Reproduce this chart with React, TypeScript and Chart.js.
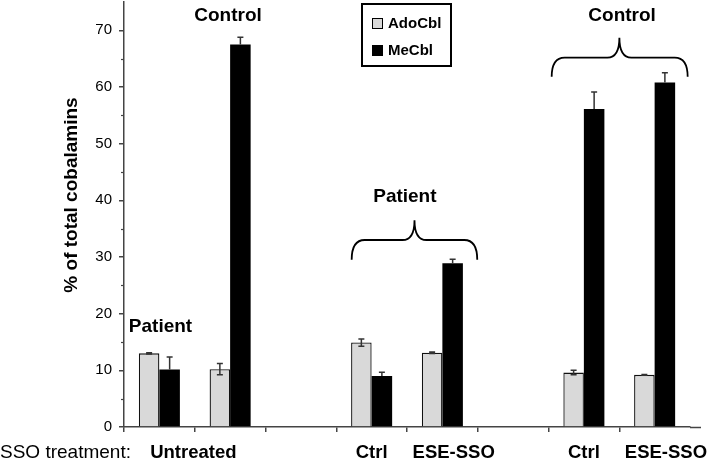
import React, { useEffect, useRef } from "react";
import { Chart, registerables } from "chart.js";

Chart.register(...registerables);

const categories = ["P-Untreated", "C-Untreated", "", "P-Ctrl", "P-ESE-SSO", "", "C-Ctrl", "C-ESE-SSO"];
const adoValues = [13.0, 10.2, null, 14.9, 13.1, null, 9.6, 9.2];
const adoErrors = [0.1, 1.0, 0, 0.65, 0.12, 0, 0.4, 0.08];
const meValues = [10.15, 67.5, null, 9.0, 28.9, null, 56.1, 60.8];
const meErrors = [2.2, 1.3, 0, 0.65, 0.7, 0, 3.0, 1.7];
const seriesNames = ["AdoCbl", "MeCbl"];
const yTickLabels = [0, 10, 20, 30, 40, 50, 60, 70];
const yMinorTicks = [5, 15, 25, 35, 45, 55, 65];
const xLabels = [
  { text: "Untreated", at: 0.48 },
  { text: "Ctrl", at: 3.0 },
  { text: "ESE-SSO", at: 4.16 },
  { text: "Ctrl", at: 6.0 },
  { text: "ESE-SSO", at: 7.16 },
];
const rowTitle = "SSO treatment:";
const yTitle = "% of total cobalamins";
const groupLabels = [
  { text: "Control", at: 0.97, y: 72.5 },
  { text: "Patient", at: 0.016, y: 17.7 },
  { text: "Patient", at: 3.47, y: 40.6 },
  { text: "Control", at: 6.54, y: 72.5 },
];
const braces = [
  { from: 2.718, to: 4.493, mid: 3.606, end: 29.5, bar: 33.0, peak: 36.5 },
  { from: 5.545, to: 7.467, mid: 6.502, end: 61.8, bar: 65.2, peak: 68.7 },
];

const FONT = "'Liberation Sans', Arial, Helvetica, sans-serif";
const AXIS = "#444";
const GRAY = "#d9d9d9";

const overlay = {
  id: "overlay",
  afterDatasetsDraw(chart: any) {
    const ctx = chart.ctx;
    const x = chart.scales.x;
    const y = chart.scales.y;
    ctx.save();
    // error bars
    ctx.strokeStyle = "#333";
    ctx.lineWidth = 1.5;
    const drawErr = (di: number, vals: any[], errs: number[], both: boolean) => {
      const meta = chart.getDatasetMeta(di);
      vals.forEach((v, i) => {
        if (v == null) return;
        const el = meta.data[i];
        const cx = el.x;
        const top = y.getPixelForValue(v + errs[i]);
        const bot = both ? y.getPixelForValue(v - errs[i]) : el.y;
        ctx.beginPath();
        ctx.moveTo(cx, top);
        ctx.lineTo(cx, bot);
        ctx.moveTo(cx - 3, top);
        ctx.lineTo(cx + 3, top);
        if (both) {
          ctx.moveTo(cx - 3, bot);
          ctx.lineTo(cx + 3, bot);
        }
        ctx.stroke();
      });
    };
    drawErr(0, adoValues, adoErrors, true);
    drawErr(1, meValues, meErrors, false);

    // minor y ticks
    ctx.strokeStyle = AXIS;
    ctx.lineWidth = 1.2;
    yMinorTicks.forEach((t) => {
      const py = Math.round(y.getPixelForValue(t)) + 0.5;
      ctx.beginPath();
      ctx.moveTo(x.left - 3, py);
      ctx.lineTo(x.left, py);
      ctx.stroke();
    });
    // extend x axis line
    ctx.lineWidth = 1.5;
    ctx.beginPath();
    ctx.moveTo(x.right, y.bottom + 0.5);
    ctx.lineTo(x.right + 11, y.bottom + 0.5);
    ctx.stroke();

    // group labels
    ctx.fillStyle = "#000";
    ctx.font = `bold 19px ${FONT}`;
    ctx.textAlign = "center";
    ctx.textBaseline = "middle";
    groupLabels.forEach((g) => {
      ctx.fillText(g.text, x.getPixelForValue(g.at), y.getPixelForValue(g.y));
    });

    // braces
    ctx.strokeStyle = "#000";
    ctx.lineWidth = 1.8;
    braces.forEach((b) => {
      const x0 = x.getPixelForValue(b.from);
      const x1 = x.getPixelForValue(b.to);
      const xm = x.getPixelForValue(b.mid);
      const ye = y.getPixelForValue(b.end);
      const yh = y.getPixelForValue(b.bar);
      const yp = y.getPixelForValue(b.peak);
      const r = 13;
      ctx.beginPath();
      ctx.moveTo(x0, ye);
      ctx.quadraticCurveTo(x0, yh, x0 + r, yh);
      ctx.lineTo(xm - 12, yh);
      ctx.quadraticCurveTo(xm, yh, xm, yp);
      ctx.quadraticCurveTo(xm, yh, xm + 12, yh);
      ctx.lineTo(x1 - r, yh);
      ctx.quadraticCurveTo(x1, yh, x1, ye);
      ctx.stroke();
    });

    // legend
    ctx.lineWidth = 2;
    ctx.strokeStyle = "#000";
    ctx.strokeRect(362, 4, 89, 62);
    ctx.fillStyle = GRAY;
    ctx.fillRect(372.5, 18.5, 10, 10);
    ctx.lineWidth = 1;
    ctx.strokeRect(372.5, 18.5, 10, 10);
    ctx.fillStyle = "#000";
    ctx.fillRect(372, 45, 11, 11);
    ctx.font = `bold 15px ${FONT}`;
    ctx.textAlign = "left";
    ctx.textBaseline = "middle";
    ctx.fillText(seriesNames[0], 388, 24);
    ctx.fillText(seriesNames[1], 388, 51);

    // x labels
    ctx.textBaseline = "alphabetic";
    ctx.font = `bold 18.5px ${FONT}`;
    ctx.textAlign = "center";
    xLabels.forEach((l) => {
      ctx.fillText(l.text, x.getPixelForValue(l.at), 458);
    });
    ctx.font = `19px ${FONT}`;
    ctx.textAlign = "left";
    ctx.fillText(rowTitle, 0, 458);

    // y title
    ctx.save();
    ctx.translate(72, 195);
    ctx.rotate(-Math.PI / 2);
    ctx.font = `bold 19px ${FONT}`;
    ctx.textAlign = "center";
    ctx.textBaseline = "middle";
    ctx.fillText(yTitle, 0, 0);
    ctx.restore();

    ctx.restore();
  },
};

export default function App() {
  const ref = useRef<HTMLCanvasElement>(null);
  useEffect(() => {
    if (!ref.current) return;
    const chart = new Chart(ref.current, {
      type: "bar",
      data: {
        labels: categories,
        datasets: [
          {
            label: seriesNames[0],
            data: adoValues,
            backgroundColor: GRAY,
            borderColor: "#111",
            borderWidth: 1.3,
            categoryPercentage: 0.58,
            barPercentage: 1.0,
          },
          {
            label: seriesNames[1],
            data: meValues,
            backgroundColor: "#000",
            borderColor: "#000",
            borderWidth: 0,
            categoryPercentage: 0.58,
            barPercentage: 1.0,
          },
        ],
      },
      options: {
        responsive: false,
        animation: false,
        layout: { padding: { top: 2, right: 19, left: 0, bottom: 0 } },
        plugins: { legend: { display: false }, tooltip: { enabled: false }, title: { display: false } },
        scales: {
          x: {
            grid: {
              offset: true,
              drawOnChartArea: false,
              drawTicks: true,
              tickLength: 5,
              lineWidth: 1.5,
              color: (c: any) => (c.index === undefined ? "rgba(0,0,0,0)" : AXIS),
            },
            border: { color: AXIS, width: 1.5 },
            ticks: { display: false },
            afterFit: (s: any) => {
              s.height = 33;
              s.paddingLeft = 0;
              s.paddingRight = 0;
            },
          },
          y: {
            min: 0,
            max: 75,
            grid: { drawOnChartArea: false, drawTicks: true, tickLength: 5, lineWidth: 1.5, color: AXIS },
            border: { color: AXIS, width: 1.5 },
            afterBuildTicks: (s: any) => {
              s.ticks = yTickLabels.map((v) => ({ value: v }));
            },
            ticks: {
              padding: 7,
              color: "#000",
              font: { family: FONT, size: 15 },
            },
            afterFit: (s: any) => {
              s.width = 124;
              s.paddingTop = 0;
              s.paddingBottom = 0;
            },
          },
        },
      },
      plugins: [overlay],
    });
    return () => chart.destroy();
  }, []);
  return (
    <div style={{ position: "absolute", left: 0, top: 0, width: 709, height: 460, background: "#fff" }}>
      <canvas ref={ref} width={709} height={460} />
    </div>
  );
}
